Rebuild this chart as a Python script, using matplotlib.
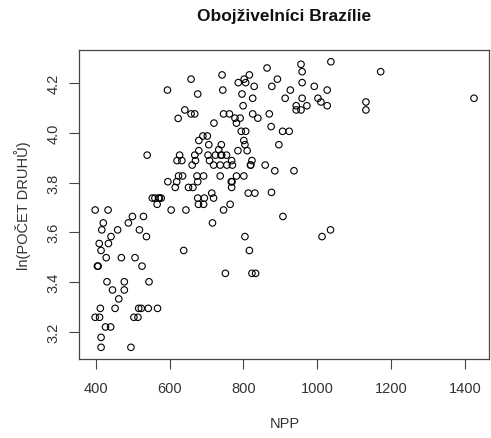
import matplotlib
matplotlib.use("Agg")
import matplotlib.pyplot as plt

plt.rcParams['font.family'] = ['Liberation Sans', 'DejaVu Sans']

title = "Obojživelníci Brazílie"
x_label = "NPP"
y_label = "ln(POČET DRUHŮ)"
x_ticks = [400, 600, 800, 1000, 1200, 1400]
y_ticks = [3.2, 3.4, 3.6, 3.8, 4.0, 4.2]

npp = [
    1037, 956, 959, 1172, 864, 742, 816, 658, 802, 892,
    786, 806, 959, 829, 877, 992, 594, 744, 927, 1027,
    676, 796, 825, 913, 959, 1002, 1425, 1010, 1132, 799,
    943, 972, 1027, 641, 943, 956, 1132, 623, 658, 668,
    746, 762, 825, 870, 777, 791, 839, 720, 781, 875,
    794, 806, 906, 924, 702, 690, 801, 679, 706, 740,
    804, 896, 733, 679, 785, 810, 539, 627, 668, 704,
    724, 739, 741, 754, 620, 633, 670, 708, 768, 823,
    661, 719, 737, 755, 770, 819, 820, 859, 885, 937,
    624, 635, 674, 692, 737, 781, 801, 595, 619, 676,
    767, 769, 615, 651, 663, 768, 714, 813, 831, 876,
    553, 560, 570, 572, 577, 676, 694, 719, 566, 678,
    692, 764, 398, 433, 604, 644, 746, 499, 529, 907,
    420, 488, 716, 416, 459, 518, 1036, 441, 537, 804,
    1013, 409, 434, 414, 638, 816, 404, 406, 428, 469,
    506, 525, 430, 477, 544, 751, 823, 833, 445, 477,
    462, 412, 452, 516, 523, 542, 567, 398, 410, 503,
    514, 426, 440, 414, 414, 495,
]

ln_species = [
    4.287, 4.277, 4.247, 4.247, 4.262, 4.234, 4.234, 4.217, 4.217, 4.217,
    4.203, 4.203, 4.203, 4.188, 4.188, 4.188, 4.173, 4.173, 4.173, 4.173,
    4.157, 4.157, 4.140, 4.140, 4.140, 4.140, 4.140, 4.125, 4.125, 4.110,
    4.110, 4.110, 4.110, 4.093, 4.093, 4.093, 4.093, 4.059, 4.077, 4.077,
    4.077, 4.077, 4.077, 4.077, 4.060, 4.060, 4.060, 4.040, 4.040, 4.026,
    4.007, 4.007, 4.007, 4.007, 3.988, 3.988, 3.970, 3.970, 3.953, 3.953,
    3.953, 3.953, 3.933, 3.929, 3.929, 3.929, 3.911, 3.911, 3.911, 3.911,
    3.911, 3.911, 3.911, 3.911, 3.889, 3.889, 3.889, 3.889, 3.889, 3.889,
    3.871, 3.871, 3.871, 3.871, 3.871, 3.871, 3.871, 3.871, 3.848, 3.848,
    3.827, 3.827, 3.827, 3.827, 3.827, 3.827, 3.827, 3.804, 3.804, 3.804,
    3.804, 3.804, 3.781, 3.781, 3.781, 3.781, 3.758, 3.758, 3.758, 3.761,
    3.738, 3.738, 3.738, 3.738, 3.738, 3.738, 3.738, 3.738, 3.713, 3.713,
    3.713, 3.713, 3.690, 3.690, 3.690, 3.690, 3.690, 3.664, 3.664, 3.664,
    3.638, 3.638, 3.638, 3.610, 3.610, 3.610, 3.610, 3.583, 3.583, 3.583,
    3.583, 3.555, 3.555, 3.527, 3.527, 3.527, 3.464, 3.464, 3.498, 3.498,
    3.498, 3.464, 3.401, 3.401, 3.401, 3.435, 3.435, 3.435, 3.368, 3.368,
    3.332, 3.294, 3.294, 3.294, 3.294, 3.294, 3.294, 3.258, 3.258, 3.258,
    3.258, 3.219, 3.219, 3.177, 3.137, 3.137,
]

text_col = "#333333"
axis_col = "#444444"

fig = plt.figure(figsize=(4.91, 4.39), dpi=100)
ax = fig.add_axes([79.3 / 491, 79.0 / 439, (489.5 - 79.3) / 491, (388.3 - 79.0) / 439])

ax.scatter(npp, ln_species, s=22, facecolors="none", edgecolors="black", linewidths=0.8)

ax.set_xlim(355, 1467)
ax.set_ylim(3.090, 4.3356)
ax.set_xticks(x_ticks)
ax.set_yticks(y_ticks)
ax.set_xticklabels([str(v) for v in x_ticks])
ax.set_yticklabels([f"{v:.1f}" for v in y_ticks], rotation=90, va="center")

ax.tick_params(direction="out", length=7, width=0.8, colors=axis_col,
               labelcolor=text_col, labelsize=10.5)
ax.tick_params(axis="x", pad=8.5)
ax.tick_params(axis="y", pad=6.5)
for sp in ax.spines.values():
    sp.set_color(axis_col)
    sp.set_linewidth(0.9)

ax.set_xlabel(x_label, fontsize=10.5, color=text_col, labelpad=15.5)
ax.set_ylabel(y_label, fontsize=10.5, color=text_col, labelpad=11.5)
fig.text(284 / 491, 1 - 16 / 439, title, ha="center", va="center",
         fontsize=12.5, fontweight="bold", color="#111111")

fig.savefig("out.png", dpi=100)
